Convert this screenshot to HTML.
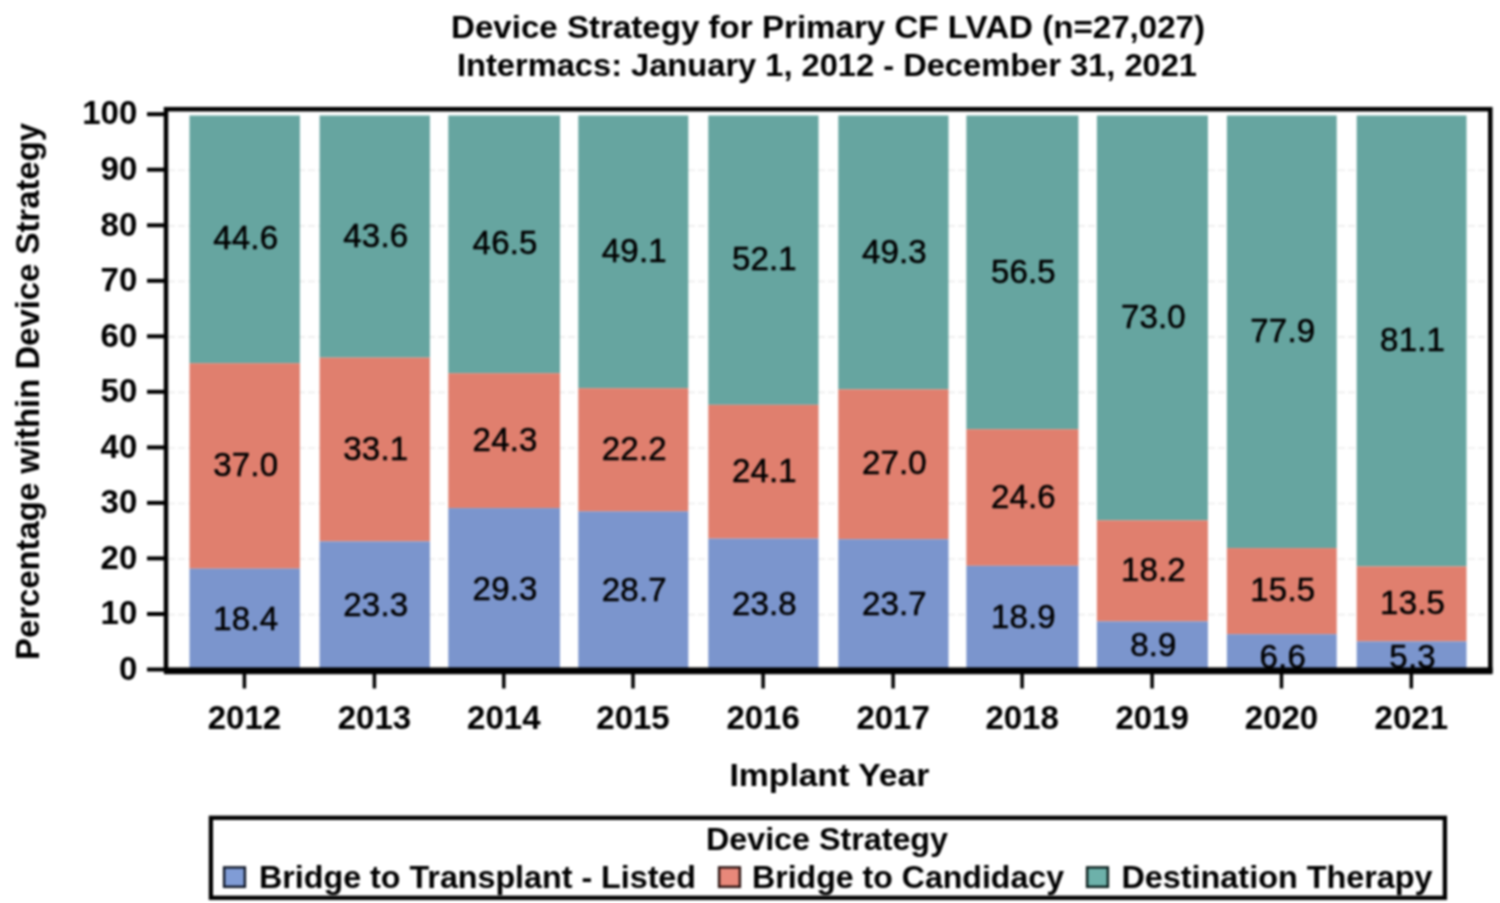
<!DOCTYPE html>
<html><head><meta charset="utf-8"><style>
html,body{margin:0;padding:0;background:#fff;width:1500px;height:903px;overflow:hidden;}
svg{display:block;} #w{filter:blur(1px);width:1500px;height:903px;}
text{font-family:"Liberation Sans",sans-serif;fill:#000;}
.b{font-weight:bold;}
</style></head><body><div id="w">
<svg width="1500" height="903" viewBox="0 0 1500 903">
<rect x="0" y="0" width="1500" height="903" fill="#fff"/>
<line x1="168" y1="614.6" x2="1488" y2="614.6" stroke="#ededed" stroke-width="1.6" stroke-dasharray="7 3"/>
<line x1="168" y1="559.0" x2="1488" y2="559.0" stroke="#ededed" stroke-width="1.6" stroke-dasharray="7 3"/>
<line x1="168" y1="503.5" x2="1488" y2="503.5" stroke="#ededed" stroke-width="1.6" stroke-dasharray="7 3"/>
<line x1="168" y1="448.0" x2="1488" y2="448.0" stroke="#ededed" stroke-width="1.6" stroke-dasharray="7 3"/>
<line x1="168" y1="392.4" x2="1488" y2="392.4" stroke="#ededed" stroke-width="1.6" stroke-dasharray="7 3"/>
<line x1="168" y1="336.9" x2="1488" y2="336.9" stroke="#ededed" stroke-width="1.6" stroke-dasharray="7 3"/>
<line x1="168" y1="281.4" x2="1488" y2="281.4" stroke="#ededed" stroke-width="1.6" stroke-dasharray="7 3"/>
<line x1="168" y1="225.9" x2="1488" y2="225.9" stroke="#ededed" stroke-width="1.6" stroke-dasharray="7 3"/>
<line x1="168" y1="170.3" x2="1488" y2="170.3" stroke="#ededed" stroke-width="1.6" stroke-dasharray="7 3"/>
<rect x="189.5" y="115.5" width="110.4" height="247.7" fill="#66a5a0"/>
<rect x="189.5" y="363.2" width="110.4" height="205.5" fill="#e07f6e"/>
<rect x="189.5" y="568.6" width="110.4" height="102.2" fill="#7b95cd"/>
<rect x="319.6" y="115.5" width="110.3" height="242.1" fill="#66a5a0"/>
<rect x="319.6" y="357.6" width="110.3" height="183.8" fill="#e07f6e"/>
<rect x="319.6" y="541.4" width="110.3" height="129.4" fill="#7b95cd"/>
<rect x="448.3" y="115.5" width="111.7" height="257.7" fill="#66a5a0"/>
<rect x="448.3" y="373.2" width="111.7" height="134.9" fill="#e07f6e"/>
<rect x="448.3" y="508.1" width="111.7" height="162.7" fill="#7b95cd"/>
<rect x="578.3" y="115.5" width="110.0" height="272.7" fill="#66a5a0"/>
<rect x="578.3" y="388.2" width="110.0" height="123.3" fill="#e07f6e"/>
<rect x="578.3" y="511.4" width="110.0" height="159.4" fill="#7b95cd"/>
<rect x="708.3" y="115.5" width="110.2" height="289.3" fill="#66a5a0"/>
<rect x="708.3" y="404.8" width="110.2" height="133.8" fill="#e07f6e"/>
<rect x="708.3" y="538.6" width="110.2" height="132.2" fill="#7b95cd"/>
<rect x="838.3" y="115.5" width="110.2" height="273.8" fill="#66a5a0"/>
<rect x="838.3" y="389.3" width="110.2" height="149.9" fill="#e07f6e"/>
<rect x="838.3" y="539.2" width="110.2" height="131.6" fill="#7b95cd"/>
<rect x="966.4" y="115.5" width="112.0" height="313.7" fill="#66a5a0"/>
<rect x="966.4" y="429.2" width="112.0" height="136.6" fill="#e07f6e"/>
<rect x="966.4" y="565.8" width="112.0" height="105.0" fill="#7b95cd"/>
<rect x="1096.9" y="115.5" width="111.0" height="404.8" fill="#66a5a0"/>
<rect x="1096.9" y="520.3" width="111.0" height="101.1" fill="#e07f6e"/>
<rect x="1096.9" y="621.4" width="111.0" height="49.4" fill="#7b95cd"/>
<rect x="1226.9" y="115.5" width="109.8" height="432.6" fill="#66a5a0"/>
<rect x="1226.9" y="548.1" width="109.8" height="86.1" fill="#e07f6e"/>
<rect x="1226.9" y="634.2" width="109.8" height="36.6" fill="#7b95cd"/>
<rect x="1356.7" y="115.5" width="109.8" height="450.9" fill="#66a5a0"/>
<rect x="1356.7" y="566.4" width="109.8" height="75.0" fill="#e07f6e"/>
<rect x="1356.7" y="641.4" width="109.8" height="29.4" fill="#7b95cd"/>
<text x="245.7" y="629.8" font-size="33" letter-spacing="0.2" stroke="#000" stroke-width="0.5" text-anchor="middle">18.4</text>
<text x="245.7" y="476.0" font-size="33" letter-spacing="0.2" stroke="#000" stroke-width="0.5" text-anchor="middle">37.0</text>
<text x="245.7" y="249.4" font-size="33" letter-spacing="0.2" stroke="#000" stroke-width="0.5" text-anchor="middle">44.6</text>
<text x="375.8" y="616.2" font-size="33" letter-spacing="0.2" stroke="#000" stroke-width="0.5" text-anchor="middle">23.3</text>
<text x="375.8" y="459.6" font-size="33" letter-spacing="0.2" stroke="#000" stroke-width="0.5" text-anchor="middle">33.1</text>
<text x="375.8" y="246.7" font-size="33" letter-spacing="0.2" stroke="#000" stroke-width="0.5" text-anchor="middle">43.6</text>
<text x="505.1" y="599.5" font-size="33" letter-spacing="0.2" stroke="#000" stroke-width="0.5" text-anchor="middle">29.3</text>
<text x="505.1" y="450.7" font-size="33" letter-spacing="0.2" stroke="#000" stroke-width="0.5" text-anchor="middle">24.3</text>
<text x="505.1" y="254.2" font-size="33" letter-spacing="0.2" stroke="#000" stroke-width="0.5" text-anchor="middle">46.5</text>
<text x="634.3" y="601.2" font-size="33" letter-spacing="0.2" stroke="#000" stroke-width="0.5" text-anchor="middle">28.7</text>
<text x="634.3" y="459.9" font-size="33" letter-spacing="0.2" stroke="#000" stroke-width="0.5" text-anchor="middle">22.2</text>
<text x="634.3" y="261.9" font-size="33" letter-spacing="0.2" stroke="#000" stroke-width="0.5" text-anchor="middle">49.1</text>
<text x="764.4" y="614.8" font-size="33" letter-spacing="0.2" stroke="#000" stroke-width="0.5" text-anchor="middle">23.8</text>
<text x="764.4" y="481.8" font-size="33" letter-spacing="0.2" stroke="#000" stroke-width="0.5" text-anchor="middle">24.1</text>
<text x="764.4" y="270.3" font-size="33" letter-spacing="0.2" stroke="#000" stroke-width="0.5" text-anchor="middle">52.1</text>
<text x="894.4" y="615.1" font-size="33" letter-spacing="0.2" stroke="#000" stroke-width="0.5" text-anchor="middle">23.7</text>
<text x="894.4" y="474.3" font-size="33" letter-spacing="0.2" stroke="#000" stroke-width="0.5" text-anchor="middle">27.0</text>
<text x="894.4" y="262.5" font-size="33" letter-spacing="0.2" stroke="#000" stroke-width="0.5" text-anchor="middle">49.3</text>
<text x="1023.4" y="628.4" font-size="33" letter-spacing="0.2" stroke="#000" stroke-width="0.5" text-anchor="middle">18.9</text>
<text x="1023.4" y="507.6" font-size="33" letter-spacing="0.2" stroke="#000" stroke-width="0.5" text-anchor="middle">24.6</text>
<text x="1023.4" y="282.5" font-size="33" letter-spacing="0.2" stroke="#000" stroke-width="0.5" text-anchor="middle">56.5</text>
<text x="1153.4" y="656.2" font-size="33" letter-spacing="0.2" stroke="#000" stroke-width="0.5" text-anchor="middle">8.9</text>
<text x="1153.4" y="580.9" font-size="33" letter-spacing="0.2" stroke="#000" stroke-width="0.5" text-anchor="middle">18.2</text>
<text x="1153.4" y="327.7" font-size="33" letter-spacing="0.2" stroke="#000" stroke-width="0.5" text-anchor="middle">73.0</text>
<text x="1282.8" y="668.3" font-size="33" letter-spacing="0.2" stroke="#000" stroke-width="0.5" text-anchor="middle">6.6</text>
<text x="1282.8" y="601.2" font-size="33" letter-spacing="0.2" stroke="#000" stroke-width="0.5" text-anchor="middle">15.5</text>
<text x="1282.8" y="341.9" font-size="33" letter-spacing="0.2" stroke="#000" stroke-width="0.5" text-anchor="middle">77.9</text>
<text x="1412.6" y="668.3" font-size="33" letter-spacing="0.2" stroke="#000" stroke-width="0.5" text-anchor="middle">5.3</text>
<text x="1412.6" y="614.0" font-size="33" letter-spacing="0.2" stroke="#000" stroke-width="0.5" text-anchor="middle">13.5</text>
<text x="1412.6" y="351.3" font-size="33" letter-spacing="0.2" stroke="#000" stroke-width="0.5" text-anchor="middle">81.1</text>
<rect x="166" y="109.2" width="1324.3" height="561.5" fill="none" stroke="#000" stroke-width="4.5"/>
<rect x="164" y="667.4" width="1328.5" height="6.8" fill="#000"/>
<line x1="147" y1="669.5" x2="166" y2="669.5" stroke="#000" stroke-width="4"/>
<text class="b" x="137.3" y="679.7" font-size="33" text-anchor="end">0</text>
<line x1="147" y1="614.0" x2="166" y2="614.0" stroke="#000" stroke-width="4"/>
<text class="b" x="137.3" y="624.2" font-size="33" text-anchor="end">10</text>
<line x1="147" y1="558.4" x2="166" y2="558.4" stroke="#000" stroke-width="4"/>
<text class="b" x="137.3" y="568.6" font-size="33" text-anchor="end">20</text>
<line x1="147" y1="502.9" x2="166" y2="502.9" stroke="#000" stroke-width="4"/>
<text class="b" x="137.3" y="513.1" font-size="33" text-anchor="end">30</text>
<line x1="147" y1="447.4" x2="166" y2="447.4" stroke="#000" stroke-width="4"/>
<text class="b" x="137.3" y="457.6" font-size="33" text-anchor="end">40</text>
<line x1="147" y1="391.8" x2="166" y2="391.8" stroke="#000" stroke-width="4"/>
<text class="b" x="137.3" y="402.0" font-size="33" text-anchor="end">50</text>
<line x1="147" y1="336.3" x2="166" y2="336.3" stroke="#000" stroke-width="4"/>
<text class="b" x="137.3" y="346.5" font-size="33" text-anchor="end">60</text>
<line x1="147" y1="280.8" x2="166" y2="280.8" stroke="#000" stroke-width="4"/>
<text class="b" x="137.3" y="291.0" font-size="33" text-anchor="end">70</text>
<line x1="147" y1="225.3" x2="166" y2="225.3" stroke="#000" stroke-width="4"/>
<text class="b" x="137.3" y="235.5" font-size="33" text-anchor="end">80</text>
<line x1="147" y1="169.7" x2="166" y2="169.7" stroke="#000" stroke-width="4"/>
<text class="b" x="137.3" y="179.9" font-size="33" text-anchor="end">90</text>
<line x1="147" y1="114.2" x2="166" y2="114.2" stroke="#000" stroke-width="4"/>
<text class="b" x="137.3" y="124.4" font-size="33" text-anchor="end">100</text>
<line x1="244.4" y1="672" x2="244.4" y2="688.5" stroke="#000" stroke-width="3.5"/>
<text class="b" x="244.4" y="728.6" font-size="33" text-anchor="middle">2012</text>
<line x1="374.4" y1="672" x2="374.4" y2="688.5" stroke="#000" stroke-width="3.5"/>
<text class="b" x="374.4" y="728.6" font-size="33" text-anchor="middle">2013</text>
<line x1="503.8" y1="672" x2="503.8" y2="688.5" stroke="#000" stroke-width="3.5"/>
<text class="b" x="503.8" y="728.6" font-size="33" text-anchor="middle">2014</text>
<line x1="633.0" y1="672" x2="633.0" y2="688.5" stroke="#000" stroke-width="3.5"/>
<text class="b" x="633.0" y="728.6" font-size="33" text-anchor="middle">2015</text>
<line x1="763.1" y1="672" x2="763.1" y2="688.5" stroke="#000" stroke-width="3.5"/>
<text class="b" x="763.1" y="728.6" font-size="33" text-anchor="middle">2016</text>
<line x1="893.1" y1="672" x2="893.1" y2="688.5" stroke="#000" stroke-width="3.5"/>
<text class="b" x="893.1" y="728.6" font-size="33" text-anchor="middle">2017</text>
<line x1="1022.1" y1="672" x2="1022.1" y2="688.5" stroke="#000" stroke-width="3.5"/>
<text class="b" x="1022.1" y="728.6" font-size="33" text-anchor="middle">2018</text>
<line x1="1152.1" y1="672" x2="1152.1" y2="688.5" stroke="#000" stroke-width="3.5"/>
<text class="b" x="1152.1" y="728.6" font-size="33" text-anchor="middle">2019</text>
<line x1="1281.5" y1="672" x2="1281.5" y2="688.5" stroke="#000" stroke-width="3.5"/>
<text class="b" x="1281.5" y="728.6" font-size="33" text-anchor="middle">2020</text>
<line x1="1411.3" y1="672" x2="1411.3" y2="688.5" stroke="#000" stroke-width="3.5"/>
<text class="b" x="1411.3" y="728.6" font-size="33" text-anchor="middle">2021</text>
<text class="b" x="451" y="38" font-size="31" textLength="754" lengthAdjust="spacingAndGlyphs">Device Strategy for Primary CF LVAD (n=27,027)</text>
<text class="b" x="457" y="76.4" font-size="31" textLength="740" lengthAdjust="spacingAndGlyphs">Intermacs: January 1, 2012 - December 31, 2021</text>
<text class="b" transform="translate(38.8,660) rotate(-90)" x="0" y="0" font-size="32.5" textLength="537" lengthAdjust="spacingAndGlyphs">Percentage within Device Strategy</text>
<text class="b" x="729.5" y="786" font-size="31" textLength="200" lengthAdjust="spacingAndGlyphs">Implant Year</text>
<rect x="210.9" y="817.8" width="1234" height="80" fill="none" stroke="#000" stroke-width="4.3"/>
<text class="b" x="706" y="850" font-size="31" textLength="242" lengthAdjust="spacingAndGlyphs">Device Strategy</text>
<rect x="224.1" y="867.4" width="20.8" height="19.4" fill="#809cd6" stroke="#101828" stroke-width="2.4"/>
<text class="b" x="259" y="888" font-size="31" textLength="437" lengthAdjust="spacingAndGlyphs">Bridge to Transplant - Listed</text>
<rect x="719.1" y="867.4" width="20.8" height="19.4" fill="#e8887a" stroke="#2a1210" stroke-width="2.4"/>
<text class="b" x="752" y="888" font-size="31" textLength="312" lengthAdjust="spacingAndGlyphs">Bridge to Candidacy</text>
<rect x="1087.1" y="867.4" width="20.8" height="19.4" fill="#6db1aa" stroke="#0a1e1c" stroke-width="2.4"/>
<text class="b" x="1121.5" y="888" font-size="31" textLength="311" lengthAdjust="spacingAndGlyphs">Destination Therapy</text>
</svg></div></body></html>
